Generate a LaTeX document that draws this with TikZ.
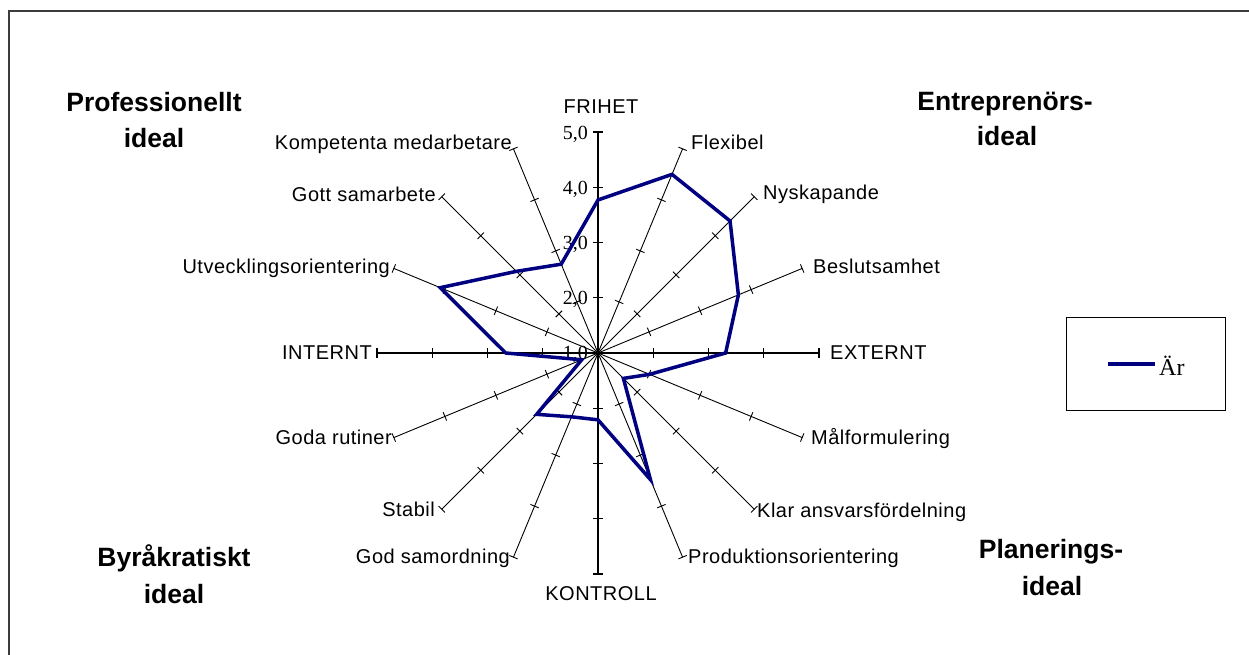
\documentclass[tikz,border=0pt]{standalone}
\usepackage{fontspec}
\setmainfont{Liberation Sans}
\newfontfamily\serifface{Liberation Serif}
\newfontfamily\labelface[LetterSpace=2.5]{Liberation Sans}
\definecolor{series}{RGB}{0,0,128}
\definecolor{framegray}{RGB}{60,60,60}

\begin{document}
\begin{tikzpicture}[x=1pt,y=-1pt,
  axislbl/.style={font=\labelface\fontsize{20}{22}\selectfont, inner sep=0pt},
  ideal/.style={font=\fontsize{26.5}{30}\selectfont\bfseries, inner sep=0pt, anchor=base},
  vallbl/.style={font=\serifface\fontsize{20}{22}\selectfont, inner sep=0pt, anchor=east},
  spoke/.style={line width=0.9pt},
  mainspoke/.style={line width=1.4pt},
  series line/.style={draw=series, line width=3.5pt, line join=miter, line cap=round}]
\useasboundingbox (0,0) rectangle (1249,655);

% open frame
\draw[framegray, line width=2pt] (9,660) -- (9,11) -- (1255,11);

% value scale
\foreach \k in {0,...,4}
  \node[vallbl] (val\k) at (588,{353-55.1*\k+1.5}) {\the\numexpr\k+1\relax,0};

% spokes with tick marks, centre at (598,353), one step = 55.25
\begin{scope}[shift={(598,353)}, y=1pt]
  \foreach \i in {1,2,3,5,6,7,9,10,11,13,14,15} {
    \begin{scope}[rotate={90-22.5*\i}]
      \draw[spoke] (0,0) -- (221,0);
      \foreach \k in {1,...,4}
        \draw[spoke] ({55.25*\k},-4.5) -- ({55.25*\k},4.5);
    \end{scope}
  }
  \foreach \i in {0,4,8,12} {
    \begin{scope}[rotate={90-22.5*\i}]
      \draw[mainspoke] (0,0) -- (221,0);
      \foreach \k in {1,...,4}
        \draw[mainspoke] ({55.25*\k},-4.8) -- ({55.25*\k},4.8);
    \end{scope}
  }
  % series values, clockwise from FRIHET
  \foreach \v [count=\i from 0] in
      {3.77,4.50,4.38,3.75,3.31,2.01,1.65,3.48,2.21,2.25,2.57,1.32,2.67,4.09,3.09,2.74}
    \coordinate (p\i) at ({90-22.5*\i}:{(\v-1)*55.25});
  \draw[series line] (p0) -- (p1) -- (p2) -- (p3) -- (p4) -- (p5) -- (p6) -- (p7)
    -- (p8) -- (p9) -- (p10) -- (p11) -- (p12) -- (p13) -- (p14) -- (p15) -- cycle;
\end{scope}

% axis labels
\node[axislbl, anchor=base] (lFrihet) at (601,114) {FRIHET};
\node[axislbl, anchor=base west] (lFlex) at (691,150) {Flexibel};
\node[axislbl, anchor=base west] (lNysk) at (763,199) {Nyskapande};
\node[axislbl, anchor=base west] (lBesl) at (813,273) {Beslutsamhet};
\node[axislbl, anchor=base west] (lExt) at (830,359) {EXTERNT};
\node[axislbl, anchor=base west] (lMal) at (811,444) {Målformulering};
\node[axislbl, anchor=base west] (lKlar) at (757,517) {Klar ansvarsfördelning};
\node[axislbl, anchor=base west] (lProd) at (688,563) {Produktionsorientering};
\node[axislbl, anchor=base] (lKontr) at (601,600) {KONTROLL};
\node[axislbl, anchor=base east] (lSamord) at (510,563) {God samordning};
\node[axislbl, anchor=base east] (lStabil) at (435,516) {Stabil};
\node[axislbl, anchor=base east] (lRutin) at (392,444) {Goda rutiner};
\node[axislbl, anchor=base east] (lInt) at (372,359) {INTERNT};
\node[axislbl, anchor=base east] (lUtv) at (390,273) {Utvecklingsorientering};
\node[axislbl, anchor=base east] (lSamarb) at (436,201) {Gott samarbete};
\node[axislbl, anchor=base east] (lKomp) at (512,150) {Kompetenta medarbetare};

% quadrant headings
\node[ideal] (profA) at (154,111.7) {Professionellt};
\node[ideal] (profB) at (154,148) {ideal};
\node[ideal] (entrA) at (1005,110.7) {Entreprenörs-};
\node[ideal] (entrB) at (1007,146) {ideal};
\node[ideal] (byrA) at (174,566.7) {Byråkratiskt};
\node[ideal] (byrB) at (174,603.3) {ideal};
\node[ideal] (planA) at (1051,558.3) {Planerings-};
\node[ideal] (planB) at (1052,595) {ideal};

% legend
\draw[line width=1pt] (1066,317.3) rectangle (1225.7,410);
\coordinate (legA) at (1108,364);
\coordinate (legB) at (1155,364);
\draw[series line, line cap=butt] (legA) -- (legB);
\node[font=\serifface\fontsize{24}{26}\selectfont, inner sep=0pt, anchor=base west] (legText) at (1159,375) {Är};
\end{tikzpicture}
\end{document}
